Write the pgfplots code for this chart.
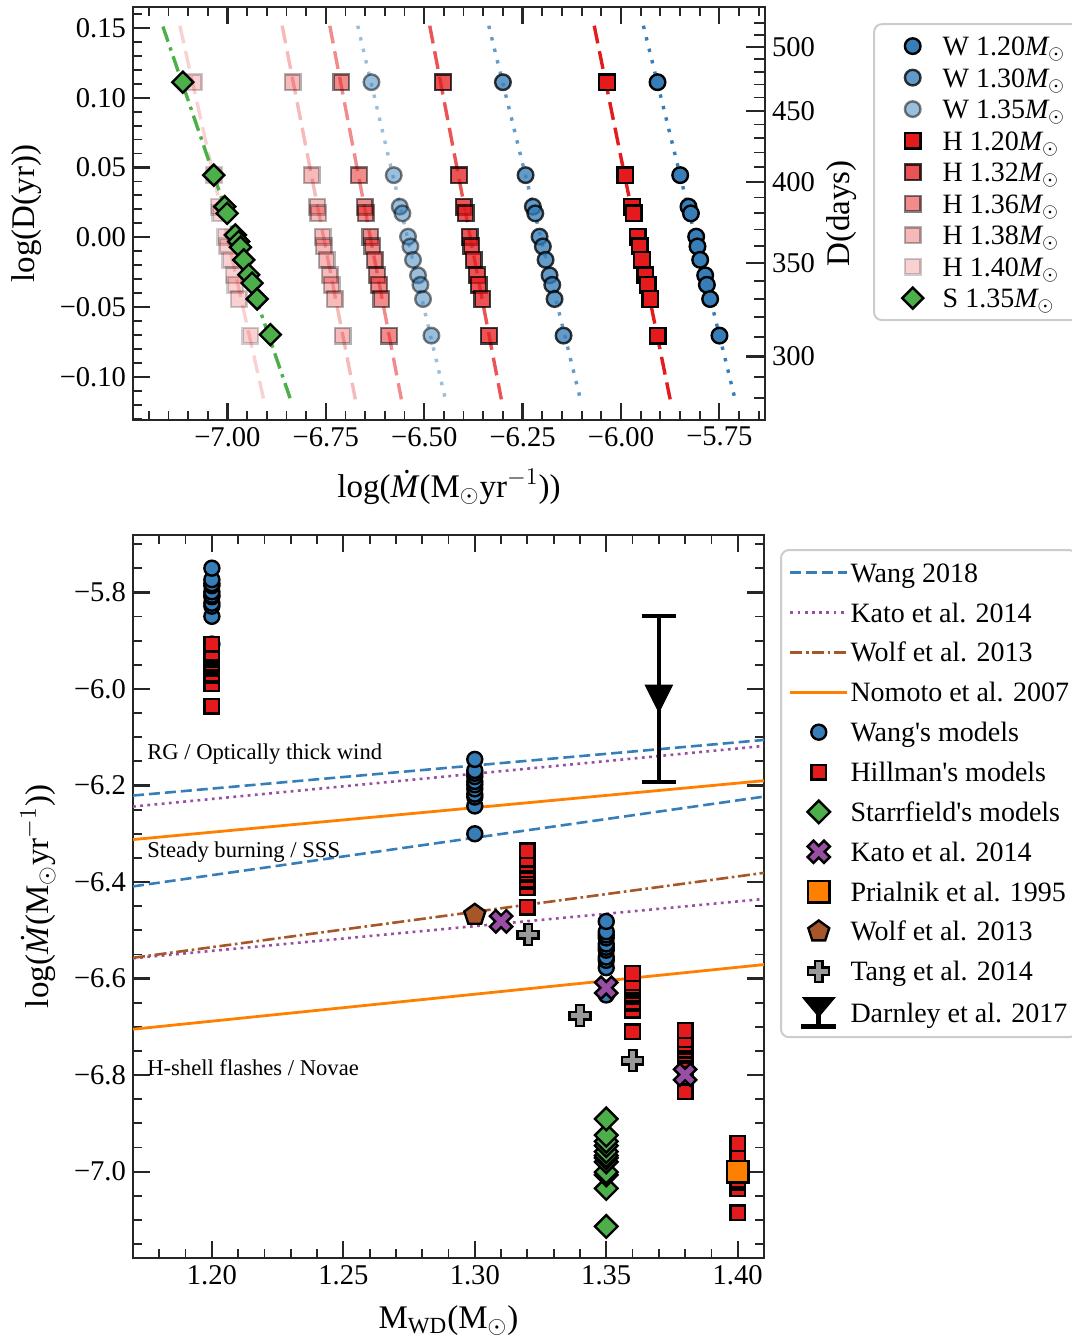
\documentclass[border=0pt]{standalone}
\usepackage{fontspec}
\setmainfont{Liberation Serif}
\usepackage{pgfplots}
\usepackage{pgfplotstable}
\pgfplotsset{compat=1.18}

\definecolor{cBlue}{RGB}{55,126,184}
\definecolor{cRed}{RGB}{228,26,28}
\definecolor{cGreen}{RGB}{77,175,74}
\definecolor{cPurple}{RGB}{152,78,163}
\definecolor{cOrange}{RGB}{255,127,0}
\definecolor{cBrown}{RGB}{166,86,40}
\definecolor{cGrey}{RGB}{153,153,153}

\pgfdeclareplotmark{Dmk}{%
  \pgfpathmoveto{\pgfqpoint{0pt}{\pgfplotmarksize}}%
  \pgfpathlineto{\pgfqpoint{\pgfplotmarksize}{0pt}}%
  \pgfpathlineto{\pgfqpoint{0pt}{-\pgfplotmarksize}}%
  \pgfpathlineto{\pgfqpoint{-\pgfplotmarksize}{0pt}}%
  \pgfpathclose
  \pgfusepathqfillstroke}
\def\plusshape{%
  \pgfpathmoveto{\pgfqpoint{-0.36\pgfplotmarksize}{-\pgfplotmarksize}}%
  \pgfpathlineto{\pgfqpoint{0.36\pgfplotmarksize}{-\pgfplotmarksize}}%
  \pgfpathlineto{\pgfqpoint{0.36\pgfplotmarksize}{-0.36\pgfplotmarksize}}%
  \pgfpathlineto{\pgfqpoint{\pgfplotmarksize}{-0.36\pgfplotmarksize}}%
  \pgfpathlineto{\pgfqpoint{\pgfplotmarksize}{0.36\pgfplotmarksize}}%
  \pgfpathlineto{\pgfqpoint{0.36\pgfplotmarksize}{0.36\pgfplotmarksize}}%
  \pgfpathlineto{\pgfqpoint{0.36\pgfplotmarksize}{\pgfplotmarksize}}%
  \pgfpathlineto{\pgfqpoint{-0.36\pgfplotmarksize}{\pgfplotmarksize}}%
  \pgfpathlineto{\pgfqpoint{-0.36\pgfplotmarksize}{0.36\pgfplotmarksize}}%
  \pgfpathlineto{\pgfqpoint{-\pgfplotmarksize}{0.36\pgfplotmarksize}}%
  \pgfpathlineto{\pgfqpoint{-\pgfplotmarksize}{-0.36\pgfplotmarksize}}%
  \pgfpathlineto{\pgfqpoint{-0.36\pgfplotmarksize}{-0.36\pgfplotmarksize}}%
  \pgfpathclose
  \pgfusepathqfillstroke}
\pgfdeclareplotmark{Pmk}{\plusshape}
\pgfdeclareplotmark{Xmk}{\pgftransformrotate{45}\plusshape}
\pgfdeclareplotmark{Tdn}{%
  \pgfpathmoveto{\pgfqpoint{-\pgfplotmarksize}{\pgfplotmarksize}}%
  \pgfpathlineto{\pgfqpoint{\pgfplotmarksize}{\pgfplotmarksize}}%
  \pgfpathlineto{\pgfqpoint{0pt}{-\pgfplotmarksize}}%
  \pgfpathclose
  \pgfusepathqfillstroke}

% W 1.20
\pgfplotstableread{
m lm lD
1.20 -5.9071 0.1111
1.20 -5.8495 0.0445
1.20 -5.8284 0.0219
1.20 -5.8223 0.0171
1.20 -5.8089 0.0004
1.20 -5.8056 -0.0066
1.20 -5.7987 -0.0162
1.20 -5.7860 -0.0273
1.20 -5.7817 -0.0341
1.20 -5.7734 -0.0443
1.20 -5.7497 -0.0705
}\WA
% W 1.30
\pgfplotstableread{
m lm lD
1.30 -6.3000 0.1111
1.30 -6.2424 0.0445
1.30 -6.2239 0.0219
1.30 -6.2178 0.0171
1.30 -6.2069 0.0004
1.30 -6.1985 -0.0066
1.30 -6.1916 -0.0162
1.30 -6.1815 -0.0273
1.30 -6.1746 -0.0341
1.30 -6.1688 -0.0443
1.30 -6.1459 -0.0705
}\WB
% W 1.35
\pgfplotstableread{
m lm lD
1.35 -6.6340 0.1111
1.35 -6.5774 0.0445
1.35 -6.5622 0.0219
1.35 -6.5553 0.0171
1.35 -6.5411 0.0004
1.35 -6.5350 -0.0066
1.35 -6.5284 -0.0162
1.35 -6.5157 -0.0273
1.35 -6.5096 -0.0341
1.35 -6.5030 -0.0443
1.35 -6.4817 -0.0705
}\WC
% H 1.20
\pgfplotstableread{
m lm lD
1.20 -6.0355 0.1111
1.20 -5.9891 0.0445
1.20 -5.9721 0.0219
1.20 -5.9680 0.0171
1.20 -5.9579 0.0004
1.20 -5.9528 -0.0066
1.20 -5.9467 -0.0162
1.20 -5.9383 -0.0273
1.20 -5.9325 -0.0341
1.20 -5.9256 -0.0443
1.20 -5.9071 -0.0705
}\HA
% H 1.32
\pgfplotstableread{
m lm lD
1.32 -6.4523 0.1111
1.32 -6.4117 0.0445
1.32 -6.3997 0.0219
1.32 -6.3947 0.0171
1.32 -6.3845 0.0004
1.32 -6.3802 -0.0066
1.32 -6.3744 -0.0162
1.32 -6.3660 -0.0273
1.32 -6.3617 -0.0341
1.32 -6.3523 -0.0443
1.32 -6.3355 -0.0705
}\HB
% H 1.36
\pgfplotstableread{
m lm lD
1.36 -6.7102 0.1111
1.36 -6.6655 0.0445
1.36 -6.6510 0.0219
1.36 -6.6485 0.0171
1.36 -6.6365 0.0004
1.36 -6.6315 -0.0066
1.36 -6.6256 -0.0162
1.36 -6.6198 -0.0273
1.36 -6.6147 -0.0341
1.36 -6.6086 -0.0443
1.36 -6.5893 -0.0705
}\HC
% H 1.38
\pgfplotstableread{
m lm lD
1.38 -6.8345 0.1111
1.38 -6.7863 0.0445
1.38 -6.7721 0.0219
1.38 -6.7695 0.0171
1.38 -6.7584 0.0004
1.38 -6.7551 -0.0066
1.38 -6.7482 -0.0162
1.38 -6.7398 -0.0273
1.38 -6.7355 -0.0341
1.38 -6.7272 -0.0443
1.38 -6.7076 -0.0705
}\HD
% H 1.40
\pgfplotstableread{
m lm lD
1.40 -7.0855 0.1111
1.40 -7.0348 0.0445
1.40 -7.0221 0.0219
1.40 -7.0178 0.0171
1.40 -7.0051 0.0004
1.40 -7.0008 -0.0066
1.40 -6.9924 -0.0162
1.40 -6.9840 -0.0273
1.40 -6.9797 -0.0341
1.40 -6.9713 -0.0443
1.40 -6.9416 -0.0705
}\HE
% S 1.35
\pgfplotstableread{
m lm lD
1.35 -7.1135 0.1111
1.35 -7.0348 0.0445
1.35 -7.0069 0.0219
1.35 -7.0008 0.0171
1.35 -6.9797 0.0016
1.35 -6.9713 -0.0031
1.35 -6.9670 -0.0071
1.35 -6.9586 -0.0162
1.35 -6.9459 -0.0269
1.35 -6.9373 -0.0329
1.35 -6.9246 -0.0443
1.35 -6.8909 -0.0698
}\SA

\pgfplotsset{
  myaxis/.style={
    scale only axis,
    axis line style={line width=1.3pt, black!85},
    tick align=inside,
    major tick length=8.5pt,
    minor tick length=4.5pt,
    major tick style={line width=1.1pt, black!85},
    minor tick style={line width=0.9pt, black!85},
    tick label style={font=\fontsize{14.3}{17}\selectfont},
    label style={font=\fontsize{16.5}{19}\selectfont},
    legend cell align=left,
  },
  tleg/.style={legend image code/.code={\path[draw=none,fill=none] (0pt,-1pt) -- (20pt,1pt);
      \draw[sharp corners,##1,only marks,mark repeat=2,mark phase=2] plot coordinates {(0pt,0pt) (10pt,0pt) (20pt,0pt)};}},
  bleg/.style={legend image code/.code={\path[draw=none,fill=none] (0pt,-1pt) -- (28.35pt,1pt);
      \draw[sharp corners,##1,only marks,mark repeat=2,mark phase=2] plot coordinates {(0pt,0pt) (14.17pt,0pt) (28.35pt,0pt)};}},
  lleg/.style={legend image code/.code={\path[draw=none,fill=none] (0pt,-1pt) -- (28.35pt,1pt);
      \draw[sharp corners,##1] (0pt,0pt) -- (28.35pt,0pt);}},
  tW/.style={only marks, mark=*, mark size=3.9pt, line width=1.2pt, draw=black, fill=cBlue, tleg},
  tH/.style={only marks, mark=square*, mark size=3.9pt, line width=1.2pt, draw=black, fill=cRed, tleg},
  tS/.style={only marks, mark=Dmk, mark size=5.25pt, line width=1.2pt, draw=black, fill=cGreen, tleg},
  bW/.style={only marks, mark=*, mark size=3.75pt, line width=1.2pt, draw=black, fill=cBlue, bleg},
  bH/.style={only marks, mark=square*, mark size=3.65pt, line width=1.2pt, draw=black, fill=cRed, bleg},
  bS/.style={only marks, mark=Dmk, mark size=5.65pt, line width=1.2pt, draw=black, fill=cGreen, bleg},
  lW/.style={forget plot, cBlue, line width=1.7pt, dash pattern=on 1.7pt off 4.2pt},
  lH/.style={forget plot, cRed, line width=1.7pt, dash pattern=on 9pt off 4pt},
}

\begin{document}
\begin{tikzpicture}
\path[use as bounding box] (0pt,0pt) rectangle (536pt,-670pt);

% ---------------- top panel ----------------
\begin{axis}[myaxis,
  at={(66.5pt,-210pt)}, anchor=south west, width=316pt, height=206.5pt,
  xmin=-7.24, xmax=-5.634, ymin=-0.131, ymax=0.165,
  ytick pos=left,
  xtick={-7,-6.75,-6.5,-6.25,-6,-5.75},
  xticklabels={−7.00,−6.75,−6.50,−6.25,−6.00,−5.75},
  ytick={-0.10,-0.05,0,0.05,0.10,0.15},
  yticklabels={−0.10,−0.05,0.00,0.05,0.10,0.15},
  minor xtick={-7.20,-7.15,-7.10,-7.05,-6.95,-6.90,-6.85,-6.80,-6.70,-6.65,-6.60,-6.55,-6.45,-6.40,-6.35,-6.30,-6.20,-6.15,-6.10,-6.05,-5.95,-5.90,-5.85,-5.80,-5.70,-5.65},
  minor ytick={-0.13,-0.12,-0.11,-0.09,-0.08,-0.07,-0.06,-0.04,-0.03,-0.02,-0.01,0.01,0.02,0.03,0.04,0.06,0.07,0.08,0.09,0.11,0.12,0.13,0.14,0.16},
  xlabel={log(\textit{\.{M}}(M$_\odot$yr$^{-1}$))},
  ylabel={log(D(yr))},
  xlabel style={at={(axis description cs:0.5,-0.162)}, anchor=center},
  ylabel style={at={(axis description cs:-0.169,0.5)}, anchor=center},
  legend style={at={(1.1709,0.961)}, anchor=north west, draw=black!20, line width=1pt, rounded corners=4pt, fill=white,
    font=\fontsize{14}{16}\selectfont, inner xsep=9.35pt, inner ysep=3.75pt, row sep=1.25pt, column sep=5pt,
    nodes={inner sep=0pt, text height=12pt, text depth=2.5pt}},
]
% fit lines
\addplot[lW] coordinates {(-5.943,0.1516) (-5.710,-0.1162)};
\addplot[lW, opacity=0.78] coordinates {(-6.336,0.1516) (-6.103,-0.1162)};
\addplot[lW, opacity=0.5] coordinates {(-6.669,0.1516) (-6.446,-0.1162)};
\addplot[lH] coordinates {(-6.068,0.1516) (-5.875,-0.1162)};
\addplot[lH, opacity=0.75] coordinates {(-6.486,0.1516) (-6.304,-0.1162)};
\addplot[lH, opacity=0.5] coordinates {(-6.740,0.1516) (-6.558,-0.1162)};
\addplot[lH, opacity=0.3] coordinates {(-6.861,0.1516) (-6.675,-0.1162)};
\addplot[lH, opacity=0.2] coordinates {(-7.121,0.1516) (-6.908,-0.1162)};
\addplot[forget plot, cGreen, line width=1.7pt, dash pattern=on 8pt off 3pt on 1.7pt off 3pt] coordinates {(-7.164,0.151) (-6.840,-0.116)};
% models
\addplot[tW] table[x=lm,y=lD]{\WA}; \addlegendentry{W 1.20$\textit{M}_\odot$}
\addplot[tW, opacity=0.78] table[x=lm,y=lD]{\WB}; \addlegendentry{W 1.30$\textit{M}_\odot$}
\addplot[tW, opacity=0.5] table[x=lm,y=lD]{\WC}; \addlegendentry{W 1.35$\textit{M}_\odot$}
\addplot[tH] table[x=lm,y=lD]{\HA}; \addlegendentry{H 1.20$\textit{M}_\odot$}
\addplot[tH, opacity=0.75] table[x=lm,y=lD]{\HB}; \addlegendentry{H 1.32$\textit{M}_\odot$}
\addplot[tH, opacity=0.5] table[x=lm,y=lD]{\HC}; \addlegendentry{H 1.36$\textit{M}_\odot$}
\addplot[tH, opacity=0.3] table[x=lm,y=lD]{\HD}; \addlegendentry{H 1.38$\textit{M}_\odot$}
\addplot[tH, opacity=0.2] table[x=lm,y=lD]{\HE}; \addlegendentry{H 1.40$\textit{M}_\odot$}
\addplot[tS] table[x=lm,y=lD]{\SA}; \addlegendentry{S 1.35$\textit{M}_\odot$}
\end{axis}

% right axis in days
\begin{axis}[myaxis,
  at={(66.5pt,-210pt)}, anchor=south west, width=316pt, height=206.5pt,
  xmin=-7.24, xmax=-5.634, ymin=-0.131, ymax=0.165,
  axis x line=none, axis y line*=right,
  ytick={-0.08547,-0.01852,0.03947,0.09062,0.13638},
  yticklabels={300,350,400,450,500},
  minor ytick={-0.11543,-0.10019,-0.07123,-0.05744,-0.04408,-0.03111,-0.00629,0.00561,0.01719,0.02846,0.05019,0.06066,0.07088,0.08086,0.10017,0.10951,0.11865,0.12761,0.14498,0.15341},
  major tick length=9.5pt, minor tick length=5.5pt,
  ylabel={D(days)},
  ylabel style={at={(axis description cs:1.122,0.5)}, anchor=center},
]
\addplot[draw=none, forget plot] coordinates {(-7,0)};
\end{axis}

% ---------------- bottom panel ----------------
\begin{axis}[myaxis,
  at={(66.5pt,-629pt)}, anchor=south west, width=315.5pt, height=361.5pt,
  xmin=1.17, xmax=1.41, ymin=-7.179, ymax=-5.681,
  xtick={1.20,1.25,1.30,1.35,1.40},
  xticklabels={1.20,1.25,1.30,1.35,1.40},
  ytick={-7.0,-6.8,-6.6,-6.4,-6.2,-6.0,-5.8},
  yticklabels={−7.0,−6.8,−6.6,−6.4,−6.2,−6.0,−5.8},
  minor xtick={1.17,1.18,1.19,1.21,1.22,1.23,1.24,1.26,1.27,1.28,1.29,1.31,1.32,1.33,1.34,1.36,1.37,1.38,1.39,1.41},
  minor ytick={-7.15,-7.10,-7.05,-6.95,-6.90,-6.85,-6.75,-6.70,-6.65,-6.55,-6.50,-6.45,-6.35,-6.30,-6.25,-6.15,-6.10,-6.05,-5.95,-5.90,-5.85,-5.75,-5.70},
  xlabel={M\textsubscript{WD}(M$_\odot$)},
  ylabel={log(\textit{\.{M}}(M$_\odot$yr$^{-1}$))},
  xlabel style={at={(axis description cs:0.5,-0.087)}, anchor=center},
  ylabel style={at={(axis description cs:-0.1506,0.5)}, anchor=center},
  legend style={at={(1.0254,0.9806)}, anchor=north west, draw=black!20, line width=1pt, rounded corners=4pt, fill=white,
    font=\fontsize{14}{16}\selectfont, inner xsep=4pt, inner ysep=4.1pt, row sep=5.43pt, column sep=1pt,
    nodes={inner sep=0pt, text height=12pt, text depth=2.5pt}},
]
% boundary lines
\addplot[lleg, cBlue, line width=1.3pt, dash pattern=on 5.5pt off 2.5pt] coordinates {(1.17,-6.2208) (1.41,-6.1056)};
\addlegendentry{Wang 2018}
\addplot[forget plot, cBlue, line width=1.3pt, dash pattern=on 5.5pt off 2.5pt] coordinates {(1.17,-6.409) (1.41,-6.223)};
\addplot[lleg, cPurple, line width=1.3pt, dash pattern=on 1.4pt off 2.2pt] coordinates {(1.17,-6.2436) (1.41,-6.118)};
\addlegendentry{Kato et al. 2014}
\addplot[forget plot, cPurple, line width=1.3pt, dash pattern=on 1.4pt off 2.2pt] coordinates {(1.17,-6.558) (1.41,-6.435)};
\addplot[lleg, cBrown, line width=1.3pt, dash pattern=on 6pt off 1.8pt on 1.3pt off 1.8pt] coordinates {(1.17,-6.557) (1.41,-6.381)};
\addlegendentry{Wolf et al. 2013}
\addplot[lleg, cOrange, line width=1.4pt] coordinates {(1.17,-6.312) (1.41,-6.190)};
\addlegendentry{Nomoto et al. 2007}
\addplot[forget plot, cOrange, line width=1.4pt] coordinates {(1.17,-6.705) (1.41,-6.571)};
% models
\addplot[bW] table[x=m,y=lm]{\WA}; \addlegendentry{Wang\textquotesingle s models}
\addplot[bW, forget plot] table[x=m,y=lm]{\WB};
\addplot[bW, forget plot] table[x=m,y=lm]{\WC};
\addplot[bH] table[x=m,y=lm]{\HA}; \addlegendentry{Hillman\textquotesingle s models}
\addplot[bH, forget plot] table[x=m,y=lm]{\HB};
\addplot[bH, forget plot] table[x=m,y=lm]{\HC};
\addplot[bH, forget plot] table[x=m,y=lm]{\HD};
\addplot[bH, forget plot] table[x=m,y=lm]{\HE};
\addplot[bS] table[x=m,y=lm]{\SA}; \addlegendentry{Starrfield\textquotesingle s models}
\addplot[only marks, mark=Xmk, mark size=5.8pt, line width=1.2pt, draw=black, fill=cPurple, bleg] coordinates {(1.31,-6.4815) (1.35,-6.619) (1.38,-6.799)};
\addlegendentry{Kato et al. 2014}
\addplot[only marks, mark=square*, mark size=5.4pt, line width=1.2pt, draw=black, fill=cOrange, bleg] coordinates {(1.40,-7.0)};
\addlegendentry{Prialnik et al. 1995}
\addplot[only marks, mark=pentagon*, mark size=5.5pt, line width=1.2pt, draw=black, fill=cBrown, bleg] coordinates {(1.30,-6.468)};
\addlegendentry{Wolf et al. 2013}
\addplot[only marks, mark=Pmk, mark size=5.25pt, line width=1.2pt, draw=black, fill=cGrey, bleg] coordinates {(1.3203,-6.509) (1.34,-6.677) (1.36,-6.770)};
\addlegendentry{Tang et al. 2014}
\addplot[only marks, mark=Tdn, mark size=6.8pt, line width=0.5pt, draw=black, fill=black,
  legend image code/.code={\path[draw=none,fill=none] (0pt,-8pt) -- (28.35pt,8pt);
    \draw[black, line width=2.3pt] (14.17pt,3pt) -- (14.17pt,-7pt);
    \draw[black, line width=2.3pt] (5.5pt,-7pt) -- (22.85pt,-7pt);
    \fill[black, sharp corners] (6.2pt,7.5pt) -- (22.15pt,7.5pt) -- (14.17pt,-2pt) -- cycle;},
  error bars/.cd, y dir=both, y explicit,
  error bar style={line width=2.3pt, black},
  error mark options={rotate=90, line width=2pt, mark size=8.5pt, black}]
  coordinates {(1.37,-6.02) +- (0,0.172)};
\addlegendentry{Darnley et al. 2017}
% region labels
\node[anchor=west, inner sep=0pt, font=\fontsize{11.3}{13}\selectfont] at (axis cs:1.1753,-6.134) {RG / Optically thick wind};
\node[anchor=west, inner sep=0pt, font=\fontsize{11.3}{13}\selectfont] at (axis cs:1.1753,-6.337) {Steady burning / SSS};
\node[anchor=west, inner sep=0pt, font=\fontsize{11.3}{13}\selectfont] at (axis cs:1.1753,-6.784) {H-shell flashes / Novae};
\end{axis}
\end{tikzpicture}
\end{document}
